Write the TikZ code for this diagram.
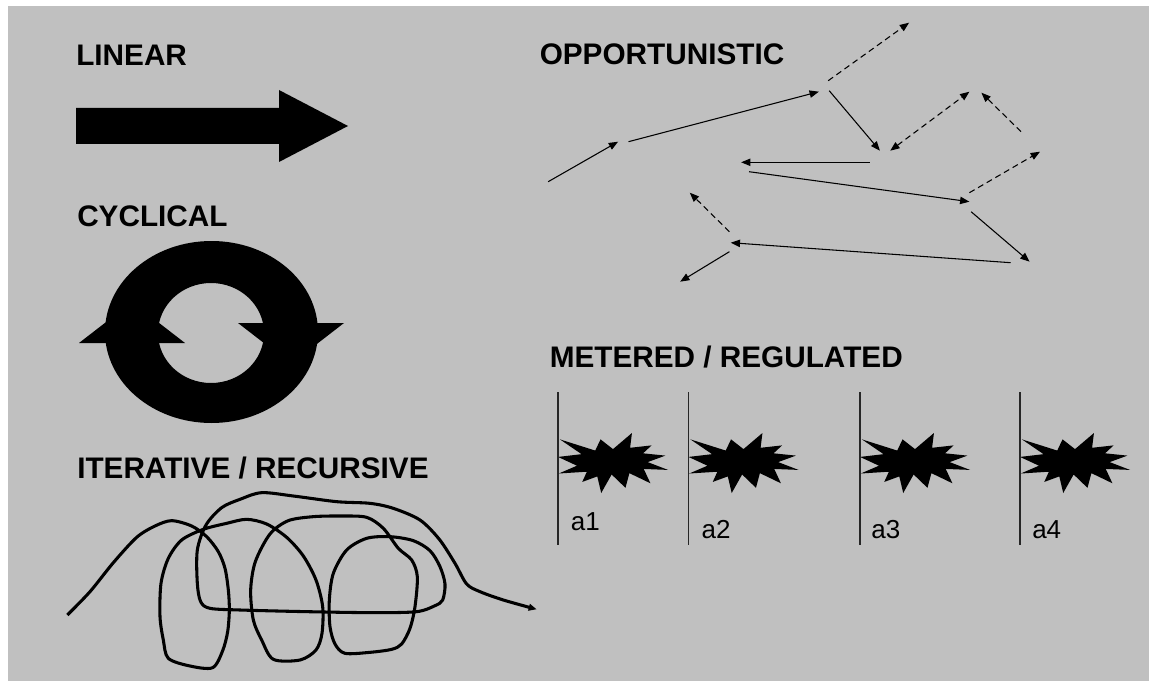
\documentclass[tikz,border=0pt]{standalone}
\usepackage{fontspec}
\setmainfont{Liberation Sans}
\usetikzlibrary{arrows.meta}
\definecolor{bggray}{HTML}{C0C0C0}
\definecolor{rulegray}{HTML}{262626}
\newcommand{\burstat}[1]{%
  \begin{scope}[shift={(#1,433)}, xscale=110/216, yscale=60/216]
    \fill[black] (108,58) -- (145.22,0) -- (141.55,53.25) -- (183.80,44.57) -- (167.02,73.15)
      -- (210.97,81.37) -- (176.07,104.75) -- (216,132.90) -- (168.37,129.42) -- (181.45,180.95)
      -- (140.20,144.57) -- (132.47,197.37) -- (105.32,149.35) -- (84.85,216) -- (77.15,156.27)
      -- (47.62,176.17) -- (56.67,139.37) -- (1.35,145.87) -- (37.22,117.75) -- (0,86.15)
      -- (46.27,76.17) -- (3.70,22.95) -- (73.12,63.20) -- (83.52,22.95) -- cycle;
  \end{scope}}
\begin{document}
\begin{tikzpicture}[x=0.75pt,y=-0.75pt,
  ttl/.style={font=\bfseries\fontsize{22.3}{26}\selectfont, inner sep=0pt, anchor=base west},
  lbl/.style={font=\fontsize{19.5}{22}\selectfont, inner sep=0pt, anchor=base west},
  opp/.style={line width=0.8pt, -{Triangle[length=7pt,width=5.5pt]}},
  oppd/.style={opp, dash pattern=on 4.5pt off 3pt},
  oppdd/.style={line width=0.8pt, {Triangle[length=7pt,width=5.5pt]}-{Triangle[length=7pt,width=5.5pt]}, dash pattern=on 4.5pt off 3pt},
  scrib/.style={line width=2.3pt, line join=round, -{Triangle[length=6pt,width=5pt]}},
  vline/.style={draw=rulegray, line width=1.1pt}]
\useasboundingbox (0,0) rectangle (1149,681);
\fill[white] (0,0) rectangle (1149,681);
\fill[bggray] (8,6) rectangle (1149,681);

% titles
\node[ttl] (tlin) at (76,66) {LINEAR};
\node[ttl] (tcyc) at (77,226) {CYCLICAL};
\node[ttl] (tit) at (77,478) {ITERATIVE / RECURSIVE};
\node[ttl] (topp) at (539.5,65) {OPPORTUNISTIC};
\node[ttl] (tmet) at (549.5,367) {METERED / REGULATED};

% linear arrow
\fill[black] (76,108) -- (279,108) -- (279,90) -- (348,126) -- (279,162) -- (279,144) -- (76,144) -- cycle;

% cyclical ring
\fill[black, even odd rule] (211.5,332) ellipse [x radius=79.875pt, y radius=68.25pt]
  (211,333) ellipse [x radius=39.75pt, y radius=37.5pt];
\fill[black] (79,343) -- (185,343) -- (132,302) -- cycle;
\fill[black] (344,323) -- (238,323) -- (291,364) -- cycle;

% iterative scribble
\begin{scope}[shift={(40,440)}, scale=1/3]
\draw[scrib] plot[smooth, tension=0.5] coordinates {
(82,525) (150,455) (220,368) (290,292) (345,258) (395,242) (455,258) (500,290) (535,335)
(555,385) (565,450) (568,510) (563,575) (548,632) (518,683) (450,678) (385,655) (370,600)
(360,530) (363,430) (385,355) (425,300) (490,268) (560,250) (620,238) (680,252) (740,292)
(790,348) (828,420) (848,500) (846,580) (828,630) (780,660) (700,658) (665,600) (640,540)
(632,450) (646,365) (690,282) (745,242) (820,230) (905,228) (980,232) (1030,265) (1075,325)
(1115,360) (1132,410) (1125,500) (1110,565) (1085,612) (1055,628) (990,637) (915,640)
(885,612) (870,560) (868,480) (880,400) (920,330) (980,295) (1050,290) (1120,302) (1170,332)
(1200,380) (1215,432) (1208,480) (1185,497) (1130,515) (1000,518) (800,515) (600,510)
(510,505) (482,485) (472,430) (472,330) (498,255) (545,203) (600,178) (665,158) (760,168)
(890,185) (990,190) (1060,205) (1140,240) (1198,298) (1245,370) (1280,432) (1320,455)
(1390,480) (1490,508)};
\end{scope}

% opportunistic
\coordinate (p1a) at (548.2,181.7);  \coordinate (p1b) at (618.1,141.7);
\coordinate (p2a) at (628.5,141.7);  \coordinate (p2b) at (818.9,91.7);
\coordinate (p3a) at (828.2,80.7);   \coordinate (p3b) at (909.1,22.7);
\coordinate (p4a) at (829.2,90.7);   \coordinate (p4b) at (879.9,150.7);
\coordinate (p5a) at (869.5,162.3);  \coordinate (p5b) at (741.1,162.3);
\coordinate (p6a) at (890.2,150.7);  \coordinate (p6b) at (969.4,91.7);
\coordinate (p7a) at (1021,131.7);   \coordinate (p7b) at (981.4,92.7);
\coordinate (p8a) at (969.4,192.7);  \coordinate (p8b) at (1040,151.7);
\coordinate (p9a) at (749,171.7);    \coordinate (p9b) at (969.4,201.7);
\coordinate (p10a) at (971.1,211.7); \coordinate (p10b) at (1029.6,261.7);
\coordinate (p11a) at (1010.7,262.7);\coordinate (p11b) at (730.7,242.7);
\coordinate (p12a) at (729.4,231.7); \coordinate (p12b) at (689.8,192.7);
\coordinate (p13a) at (729.4,251.7); \coordinate (p13b) at (680.1,281.7);
\draw[opp] (p1a) -- (p1b);
\draw[opp] (p2a) -- (p2b);
\draw[oppd] (p3a) -- (p3b);
\draw[opp] (p4a) -- (p4b);
\draw[opp] (p5a) -- (p5b);
\draw[oppdd] (p6a) -- (p6b);
\draw[oppd] (p7a) -- (p7b);
\draw[oppd] (p8a) -- (p8b);
\draw[opp] (p9a) -- (p9b);
\draw[opp] (p10a) -- (p10b);
\draw[opp] (p11a) -- (p11b);
\draw[oppd] (p12a) -- (p12b);
\draw[opp] (p13a) -- (p13b);

% metered
\burstat{558}
\burstat{688.5}
\burstat{860}
\burstat{1020}
\draw[vline] (558,392) -- (558,545);
\draw[vline] (688.5,392) -- (688.5,545);
\draw[vline] (860,392) -- (860,545);
\draw[vline] (1020,392) -- (1020,545);
\node[lbl] (a1) at (570.7,530) {a1};
\node[lbl] (a2) at (701.3,538.3) {a2};
\node[lbl] (a3) at (871.2,538.3) {a3};
\node[lbl] (a4) at (1032,538.3) {a4};
\end{tikzpicture}
\end{document}
